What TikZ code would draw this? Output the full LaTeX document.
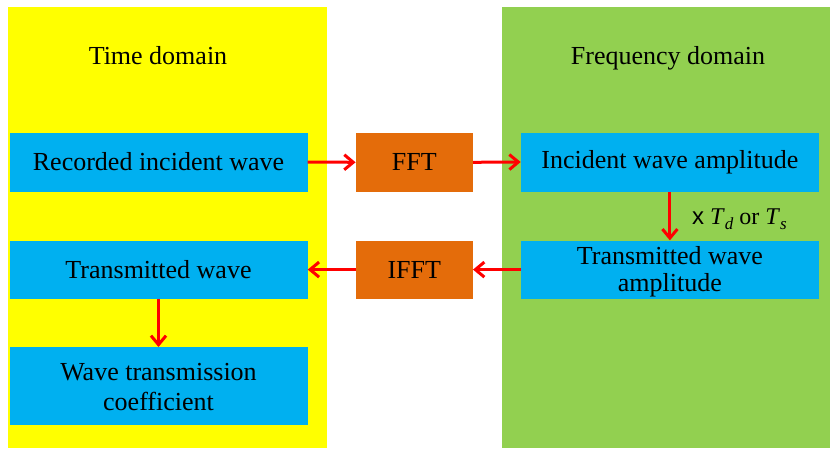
\documentclass[tikz,border=0pt]{standalone}
\usepackage{fontspec}
\setmainfont{Liberation Serif}
\newfontfamily\sansx{Liberation Sans}
\newfontfamily\serifx{Liberation Serif}
\usetikzlibrary{arrows.meta}
\definecolor{panelY}{HTML}{FFFF00}
\definecolor{panelG}{HTML}{92D050}
\definecolor{boxB}{HTML}{00B0F0}
\definecolor{boxO}{HTML}{E46C0A}
\definecolor{arrR}{HTML}{FF0000}
\newcommand{\subit}[1]{\raisebox{-5pt}{\fontsize{17}{17}\selectfont\serifx\itshape #1}}
\begin{document}
\begin{tikzpicture}[x=1pt,y=-1pt,
  bluebox/.style={fill=boxB, draw=none, inner sep=0pt, minimum width=298pt, minimum height=59pt,
    align=center, font=\fontsize{26}{32}\selectfont},
  orangebox/.style={fill=boxO, draw=none, inner sep=0pt, minimum width=117pt, minimum height=58.5pt,
    font=\fontsize{26}{32}\selectfont},
  boxtext/.style={inner sep=0pt, align=center, anchor=base},
  title/.style={font=\fontsize{26}{30}\selectfont, anchor=base},
  flow/.style={draw=arrR, line width=3pt, -{Straight Barb[length=9pt,width=15pt,line width=3pt]}}
]
\useasboundingbox (0,0) rectangle (830,455);
\fill[panelY] (8,7) rectangle (327,448);
\fill[panelG] (502,7) rectangle (830,448);
\node[title] (tdom) at (158,64.5) {Time domain};
\node[title] (fdom) at (668,64.5) {Frequency domain};
\node[bluebox] (rec) at (158.5,162) {Recorded incident wave};
\node[orangebox] (fft) at (414.3,162.3) {FFT};
\node[bluebox] (inc) at (669.9,162) {Incident wave amplitude};
\node[bluebox, minimum height=58pt] (trans) at (158.5,269.6) {Transmitted wave};
\node[orangebox, minimum height=58pt] (ifft) at (414.3,269.6) {IFFT};
\node[bluebox, minimum height=58pt] (tamp) at (669.9,269.6) {};
\node[boxtext, font=\fontsize{26}{27}\selectfont] (tampA) at (669.9,264.3) {Transmitted wave};
\node[boxtext, font=\fontsize{26}{27}\selectfont] (tampB) at (669.9,291) {amplitude};
\node[bluebox, minimum height=78pt] (coef) at (158.5,386.2) {};
\node[boxtext, font=\fontsize{26}{30}\selectfont] (coefA) at (158.5,380) {Wave transmission};
\node[boxtext, font=\fontsize{26}{30}\selectfont] (coefB) at (158.5,410.7) {coefficient};
\draw[flow] (rec.east) -- (fft.west);
\draw[flow] (fft.east) -- (inc.west);
\draw[flow] (inc.south) -- (tamp.north);
\node[anchor=base west, inner sep=0pt, font=\fontsize{24}{28}\selectfont] (lbl) at (692,224)
  {{\sansx x}\ \serifx\textit{T}\subit{d} or \textit{T}\subit{s}};
\draw[flow] (tamp.west) -- (ifft.east);
\draw[flow] (ifft.west) -- (trans.east);
\draw[flow] (trans.south) -- (coef.north);
\end{tikzpicture}
\end{document}
